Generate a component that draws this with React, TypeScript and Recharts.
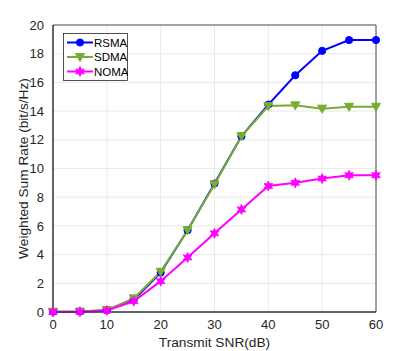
import React from 'react';
import { LineChart, Line, XAxis, YAxis, CartesianGrid, ReferenceArea } from 'recharts';

const snr = [0, 5, 10, 15, 20, 25, 30, 35, 40, 45, 50, 55, 60];
const rsma = [0.02, 0.03, 0.12, 0.85, 2.75, 5.7, 8.95, 12.25, 14.45, 16.5, 18.2, 18.95, 18.95];
const sdma = [0.02, 0.03, 0.14, 0.95, 2.8, 5.7, 8.9, 12.25, 14.35, 14.4, 14.17, 14.3, 14.3];
const noma = [0.0, 0.02, 0.1, 0.75, 2.15, 3.8, 5.48, 7.15, 8.78, 9.0, 9.3, 9.53, 9.53];
const xTicks = [0, 10, 20, 30, 40, 50, 60];
const yTicks = [0, 2, 4, 6, 8, 10, 12, 14, 16, 18, 20];

const data = snr.map((s, i) => ({ snr: s, rsma: rsma[i], sdma: sdma[i], noma: noma[i] }));

const BLUE = '#0000ff';
const GREEN = '#77ac30';
const MAGENTA = '#ff00ff';
const FONT = 'Liberation Sans, Arial, sans-serif';

// marker shapes, MATLAB style
const circle = (color: string) => (p: any) =>
  <circle key={p.index} cx={p.cx} cy={p.cy} r={3.6} fill={color} stroke={color} />;

const triangle = (color: string) => (p: any) => {
  const { cx, cy } = p;
  const pts = `${cx - 4.5},${cy - 3.5} ${cx + 4.5},${cy - 3.5} ${cx},${cy + 4.5}`;
  return <polygon key={p.index} points={pts} fill={color} stroke={color} />;
};

const star = (color: string) => (p: any) => {
  const { cx, cy } = p;
  const pts: string[] = [];
  for (let k = 0; k < 12; k++) {
    const r = k % 2 === 0 ? 5 : 2.6;
    const a = (Math.PI / 6) * k - Math.PI / 2;
    pts.push(`${cx + r * Math.cos(a)},${cy + r * Math.sin(a)}`);
  }
  return <polygon key={p.index} points={pts.join(' ')} fill={color} stroke={color} strokeWidth={0.8} />;
};

const series = [
  { key: 'rsma', name: 'RSMA', color: BLUE, dot: circle },
  { key: 'sdma', name: 'SDMA', color: GREEN, dot: triangle },
  { key: 'noma', name: 'NOMA', color: MAGENTA, dot: star },
];

// legend box drawn over the plot, upper left
const LegendBox = () => (
  <svg width={65} height={48} style={{ position: 'absolute', left: 63, top: 33 }}>
    <rect x={0.5} y={0.5} width={64} height={47} fill="#fff" stroke="#262626" strokeWidth={0.8} />
    {series.map((s, i) => {
      const y = 9.5 + i * 14.5;
      const Dot = s.dot(s.color);
      return (
        <g key={s.key}>
          <line x1={4} x2={30} y1={y} y2={y} stroke={s.color} strokeWidth={2} />
          {Dot({ cx: 17, cy: y, index: i })}
          <text x={31} y={y + 4} fontSize={11.5} fontFamily={FONT} fill="#000">{s.name}</text>
        </g>
      );
    })}
  </svg>
);

const YLabel = (props: any) => {
  const vb = props.viewBox;
  const cy = vb.y + vb.height / 2;
  return (
    <text x={23} y={cy} transform={`rotate(-90 23 ${cy})`} textAnchor="middle"
      dominantBaseline="central" fontSize={13.7} fontFamily={FONT} fill="#262626">
      Weighted Sum Rate (bit/s/Hz)
    </text>
  );
};

const XLabel = (props: any) => {
  const vb = props.viewBox;
  return (
    <text x={vb.x + vb.width / 2} y={342} textAnchor="middle" dominantBaseline="central"
      fontSize={13.7} fontFamily={FONT} fill="#262626">
      Transmit SNR(dB)
    </text>
  );
};

export default function App() {
  return (
    <div style={{ position: 'absolute', left: 0, top: 0, width: 415, height: 351, background: '#fff' }}>
      <LineChart width={415} height={351} data={data}
        margin={{ top: 25, right: 39, left: 0, bottom: 0 }}>
        <CartesianGrid stroke="#e5e5e5" strokeWidth={0.8} horizontalValues={yTicks} verticalValues={xTicks} />
        <XAxis dataKey="snr" type="number" domain={[0, 60]} ticks={xTicks} height={39}
          stroke="#262626" tickLine={false} tickMargin={2}
          tick={{ fontSize: 13, fontFamily: FONT, fill: '#262626' }}
          label={<XLabel />} />
        <YAxis type="number" domain={[0, 20]} ticks={yTicks} width={53}
          stroke="#262626" tickLine={false} tickMargin={3}
          tick={{ fontSize: 13, fontFamily: FONT, fill: '#262626' }}
          label={<YLabel />} />
        <ReferenceArea x1={0} x2={60} y1={0} y2={20} fill="none" stroke="#262626" strokeWidth={0.8} ifOverflow="visible" />
        {series.map((s) => (
          <Line key={s.key} dataKey={s.key} name={s.name} stroke={s.color} strokeWidth={2}
            dot={s.dot(s.color)} isAnimationActive={false} type="linear" />
        ))}
      </LineChart>
      <LegendBox />
    </div>
  );
}
